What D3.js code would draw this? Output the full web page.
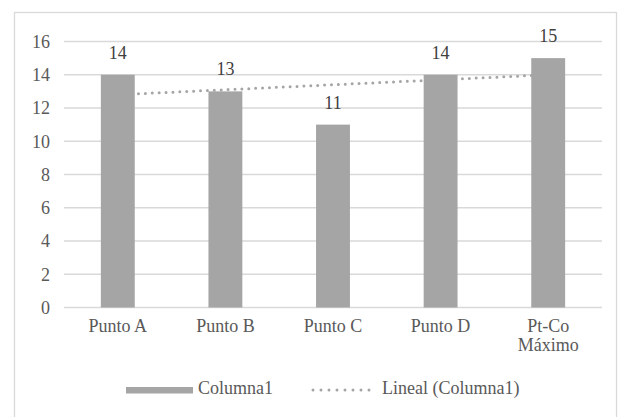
<!DOCTYPE html>
<html>
<head>
<meta charset="utf-8">
<script src="https://cdn.jsdelivr.net/npm/d3@7"></script>
<style>
  body { margin: 0; background: #fff; }
</style>
</head>
<body>
<div id="chart"></div>
<script>
const categories = [["Punto A"], ["Punto B"], ["Punto C"], ["Punto D"], ["Pt-Co", "Máximo"]];
const values = [14, 13, 11, 14, 15];
const yTicks = [0, 2, 4, 6, 8, 10, 12, 14, 16];
const seriesName = "Columna1";
const trendName = "Lineal (Columna1)";

const width = 620, height = 417;
const barColor = "#a5a5a5", gridColor = "#d9d9d9", textColor = "#595959";
const serif = "'Liberation Serif', Tinos, 'Times New Roman', serif";

const svg = d3.select("#chart").append("svg")
    .attr("width", width)
    .attr("height", height)
    .attr("font-family", serif)
    .style("display", "block");

// chart border
svg.append("rect")
    .attr("x", 14.5).attr("y", 12.5)
    .attr("width", 602).attr("height", 430)
    .attr("fill", "none")
    .attr("stroke", gridColor)
    .attr("stroke-width", 1.3);

const x = d3.scaleBand()
    .domain(d3.range(values.length))
    .range([64, 602])
    .paddingInner(0.685)
    .paddingOuter(0.3425);

const y = d3.scaleLinear().domain([0, 16]).range([307.5, 41.5]);

// gridlines
svg.append("g")
    .selectAll("line")
    .data(yTicks)
    .join("line")
    .attr("x1", 64).attr("x2", 602)
    .attr("y1", d => y(d)).attr("y2", d => y(d))
    .attr("stroke", gridColor)
    .attr("stroke-width", 1.3);

// y labels
svg.append("g")
    .attr("text-anchor", "end")
    .attr("fill", textColor)
    .attr("font-size", 18)
    .selectAll("text")
    .data(yTicks)
    .join("text")
    .attr("x", 50)
    .attr("y", d => y(d))
    .attr("dy", "0.35em")
    .text(d => d);

// linear trend (least squares on the column values)
const xs = values.map((d, i) => i + 1);
const mx = d3.mean(xs), my = d3.mean(values);
const slope = d3.sum(xs, (xi, i) => (xi - mx) * (values[i] - my)) / d3.sum(xs, xi => (xi - mx) ** 2);
const trend = xs.map(xi => my + slope * (xi - mx));

const cx = i => x(i) + x.bandwidth() / 2;

svg.append("path")
    .datum(trend)
    .attr("fill", "none")
    .attr("stroke", barColor)
    .attr("stroke-width", 3)
    .attr("stroke-linecap", "round")
    .attr("stroke-dasharray", "0,6.9")
    .attr("d", d3.line().x((d, i) => cx(i)).y(d => y(d)));

// bars
svg.append("g")
    .selectAll("rect")
    .data(values)
    .join("rect")
    .attr("x", (d, i) => x(i))
    .attr("y", d => y(d))
    .attr("width", x.bandwidth())
    .attr("height", d => y(0) - y(d))
    .attr("fill", barColor);

// value labels
svg.append("g")
    .attr("text-anchor", "middle")
    .attr("fill", "#404040")
    .attr("font-size", 18)
    .selectAll("text")
    .data(values)
    .join("text")
    .attr("x", (d, i) => cx(i))
    .attr("y", d => y(d) - 16)
    .text(d => d);

// x labels
svg.append("g")
    .attr("text-anchor", "middle")
    .attr("fill", textColor)
    .attr("font-size", 18)
    .selectAll("text")
    .data(categories)
    .join("text")
    .attr("x", (d, i) => cx(i))
    .attr("y", 331.5)
    .each(function(d, i) {
        const t = d3.select(this);
        d.forEach((line, j) => {
            t.append("tspan")
                .attr("x", cx(i))
                .attr("dy", j === 0 ? 0 : 19)
                .text(line);
        });
    });

// legend
const legend = svg.append("g").attr("fill", textColor).attr("font-size", 18);
legend.append("rect")
    .attr("x", 126).attr("y", 387)
    .attr("width", 67).attr("height", 6.5)
    .attr("fill", barColor);
legend.append("text").attr("x", 198).attr("y", 394).text(seriesName);
legend.append("line")
    .attr("x1", 313).attr("x2", 377)
    .attr("y1", 390).attr("y2", 390)
    .attr("stroke", barColor)
    .attr("stroke-width", 3)
    .attr("stroke-linecap", "round")
    .attr("stroke-dasharray", "0,8");
legend.append("text").attr("x", 382).attr("y", 394).text(trendName);
</script>
</body>
</html>
